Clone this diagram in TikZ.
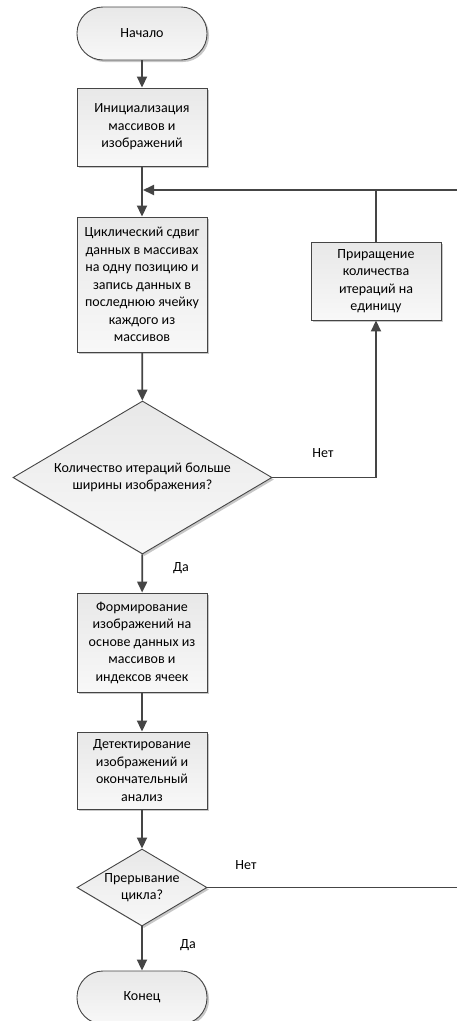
\documentclass[tikz,border=0pt]{standalone}
\usepackage{fontspec}
\setmainfont{Carlito}
\usetikzlibrary{shapes.geometric,arrows.meta,shadows}
\definecolor{ln}{HTML}{454545}
\definecolor{fillA}{HTML}{F8F8F8}
\definecolor{fillB}{HTML}{E8E8E8}
\begin{document}
\begin{tikzpicture}[x=1pt,y=-1pt,
  font=\fontsize{14}{17.5}\selectfont,
  base/.style={draw=ln,line width=0.9pt,top color=fillB,bottom color=fillA,
    align=center,inner sep=0pt,
    drop shadow={shadow xshift=2pt,shadow yshift=-2pt,fill=black!22,opacity=1}},
  procbox/.style={base,rectangle,minimum width=130pt},
  termbox/.style={base,rectangle,rounded corners=26pt,minimum width=130pt,minimum height=53pt},
  decbox/.style={base,diamond,shape aspect=1.69},
  conn/.style={draw=ln,line width=1.8pt},
  arr/.style={conn,-{Triangle[length=11pt,width=10pt]}},
  lbl/.style={font=\fontsize{14}{16}\selectfont,inner sep=0pt}
]
\clip (0,0) rectangle (457,1021);
\useasboundingbox (0,0) rectangle (457,1021);

\node[termbox] (start) at (142,33.5) {Начало};
\node[procbox,minimum height=78pt] (init) at (142,127) {Инициализация\\массивов и\\изображений};
\node[procbox,minimum height=135pt] (cycle) at (142,284.5) {Циклический сдвиг\\данных в массивах\\на одну позицию и\\запись данных в\\последнюю ячейку\\каждого из\\массивов};
\node[procbox,minimum height=78pt] (inc) at (376,281) {Приращение\\количества\\итераций на\\единицу};
\node[decbox,minimum width=259pt,minimum height=153pt] (d1) at (142.5,477.5) {Количество итераций больше\\ширины изображения?};
\node[procbox,minimum height=99pt] (form) at (142,642.5) {Формирование\\изображений на\\основе данных из\\массивов и\\индексов ячеек};
\node[procbox,minimum height=77pt] (det) at (142,770.5) {Детектирование\\изображений и\\окончательный\\анализ};
\node[decbox,minimum width=130pt,minimum height=77pt] (d2) at (142,887.5) {Прерывание\\цикла?};
\node[termbox] (end) at (142,997.5) {Конец};

\coordinate (r1) at (460,190);
\coordinate (j1) at (142,190);
\coordinate (j2) at (376,190);
\coordinate (r2) at (460,887.5);

\draw[arr] (start) -- (init);
\draw[arr] (init) -- (cycle);
\draw[arr] (cycle) -- (d1);
\draw[arr] (r1) -- ([xshift=1pt]j1);
\draw[conn] (inc.north) -- (j2);
\draw[arr] (d1.east) -| (inc.south);
\draw[arr] (d1) -- (form);
\draw[arr] (form) -- (det);
\draw[arr] (det) -- (d2);
\draw[conn] (d2.east) -- (r2);
\draw[arr] (d2) -- (end);

\node[lbl] (n1) at (323,453) {Нет};
\node[lbl] (y1) at (181,568) {Да};
\node[lbl] (n2) at (246,865) {Нет};
\node[lbl] (y2) at (188,945) {Да};
\end{tikzpicture}
\end{document}
